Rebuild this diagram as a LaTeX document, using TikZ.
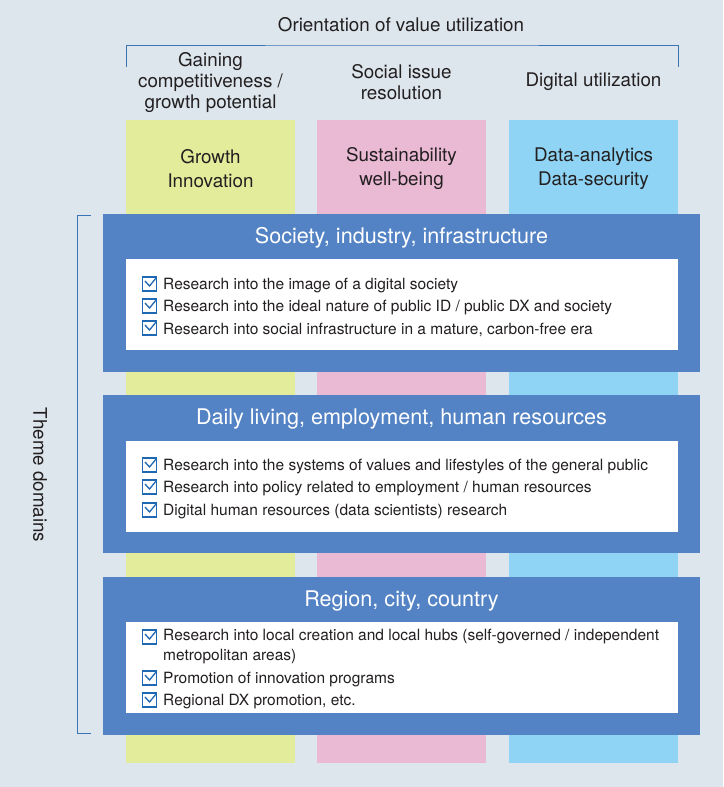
\documentclass[tikz,border=0pt]{standalone}
\usepackage{fontspec}
\setmainfont{TeX Gyre Heros}
\definecolor{bgcol}{HTML}{DCE6EC}
\definecolor{greencol}{HTML}{E3EC9B}
\definecolor{pinkcol}{HTML}{EABAD5}
\definecolor{skycol}{HTML}{8FD4F4}
\definecolor{boxblue}{HTML}{5383C4}
\definecolor{lineblue}{HTML}{3A74B6}
\definecolor{chkblue}{HTML}{1F68B3}
\definecolor{txtgray}{HTML}{231F20}

\begin{document}
\begin{tikzpicture}[x=1pt,y=-1pt,
    every node/.style={font=\fontsize{18.8}{21}\selectfont,text=txtgray},
    column/.style={minimum width=169pt,minimum height=643pt,inner sep=0pt,anchor=north},
    dombox/.style={fill=boxblue,minimum width=597pt,minimum height=158pt,inner sep=0pt,anchor=north},
    itembox/.style={fill=white,minimum width=552pt,minimum height=91pt,inner sep=0pt,anchor=north},
    domtitle/.style={text=white,font=\fontsize{21.6}{24}\selectfont},
    item/.style={anchor=west,inner sep=0pt,align=left,font=\fontsize{15.5}{20}\selectfont},
    chk/.style={draw=chkblue,fill=white,line width=1.1pt,minimum size=14pt,inner sep=0pt,
      path picture={\draw[chkblue,line width=1.3pt]
        ([shift={(-4.5pt,3pt)}]path picture bounding box.center) --
        ([shift={(0pt,-2pt)}]path picture bounding box.center) --
        ([shift={(7pt,6.5pt)}]path picture bounding box.center);}},
    bracket/.style={draw=lineblue,line width=1pt}]

  % background
  \fill[bgcol] (0,0) rectangle (723,787);

  % value columns
  \node[column,fill=greencol] (growth) at (210.5,120) {};
  \node[column,fill=pinkcol] (sustain) at (401.5,120) {};
  \node[column,fill=skycol] (digital) at (593.5,120) {};

  \node[align=center] (growthlbl) at (210.5,169) {Growth\\[3pt]Innovation};
  \node[align=center] (sustainlbl) at (401.5,169) {Sustainability\\[3pt]well-being};
  \node[align=center] (digitallbl) at (593.5,169) {Data-analytics\\[3pt]Data-security};

  % orientation header
  \node (orient) at (401,25) {Orientation of value utilization};
  \coordinate (obl) at (126,67);
  \coordinate (obr) at (678,67);
  \draw[bracket] (obl) |- (401,45) -| (obr);
  \node[align=center] (compet) at (210.5,82.5) {Gaining\\competitiveness /\\growth potential};
  \node[align=center] (social) at (401.5,82) {Social issue\\resolution};
  \node[align=center] (digit) at (593.5,82) {Digital utilization};

  % theme domains
  \coordinate (tdt) at (91,215);
  \coordinate (tdb) at (91,733);
  \draw[bracket] (tdt) -- (77,215) -- (77,733) -- (tdb);
  \node[rotate=-90] (theme) at (40,475) {Theme domains};

  % society, industry, infrastructure
  \node[dombox] (dom1) at (401.5,214) {};
  \node[domtitle] (dom1t) at (401.5,238) {Society, industry, infrastructure};
  \node[itembox] (list1) at (402,259) {};
  \node[chk] (c11) at (149.5,284) {};
  \node[chk] (c12) at (149.5,306) {};
  \node[chk] (c13) at (149.5,328) {};
  \node[item] (i11) at (163,285.5) {Research into the image of a digital society};
  \node[item] (i12) at (163,307.5) {Research into the ideal nature of public ID / public DX and society};
  \node[item] (i13) at (163,329.5) {Research into social infrastructure in a mature, carbon-free era};

  % daily living, employment, human resources
  \node[dombox] (dom2) at (401.5,395) {};
  \node[domtitle] (dom2t) at (401.5,419) {Daily living, employment, human resources};
  \node[itembox] (list2) at (402,441) {};
  \node[chk] (c21) at (149.5,465) {};
  \node[chk] (c22) at (149.5,487) {};
  \node[chk] (c23) at (149.5,510) {};
  \node[item] (i21) at (163,466.5) {Research into the systems of values and lifestyles of the general public};
  \node[item] (i22) at (163,488.5) {Research into policy related to employment / human resources};
  \node[item] (i23) at (163,511.5) {Digital human resources (data scientists) research};

  % region, city, country
  \node[dombox] (dom3) at (401.5,577) {};
  \node[domtitle] (dom3t) at (401.5,601) {Region, city, country};
  \node[itembox] (list3) at (402,622) {};
  \node[chk] (c31) at (149.5,637) {};
  \node[chk] (c32) at (149.5,678) {};
  \node[chk] (c33) at (149.5,700) {};
  \node[item,anchor=north west] (i31) at (163,628.5) {Research into local creation and local hubs (self-governed / independent\\metropolitan areas)};
  \node[item] (i32) at (163,679.5) {Promotion of innovation programs};
  \node[item] (i33) at (163,701.5) {Regional DX promotion, etc.};
\end{tikzpicture}
\end{document}
